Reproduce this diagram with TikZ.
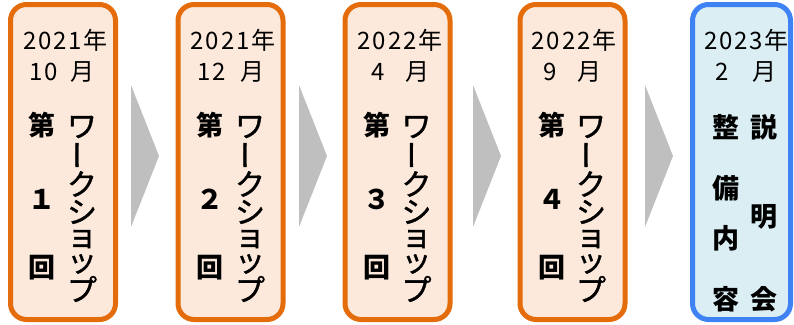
\documentclass[tikz,border=0pt]{standalone}
\usepackage{fontspec}
\setmainfont{Noto Sans CJK JP}
\newfontfamily\jphead[LetterSpace=8]{Noto Sans CJK JP}
\newfontfamily\jp{Noto Sans CJK JP}
\newfontfamily\jpk[FakeBold=1.2]{Noto Sans CJK JP}
\definecolor{orgB}{HTML}{E46C0A}
\definecolor{peach}{HTML}{FCE9DB}
\definecolor{bluB}{HTML}{3F82F4}
\definecolor{lblue}{HTML}{DAEEF3}
\definecolor{agray}{HTML}{BFBFBF}
\tikzset{
  wsbox/.style={draw=orgB, fill=peach, line width=5pt, rounded corners=16pt,
    minimum width=105pt, minimum height=315pt, inner sep=0pt},
  endbox/.style={draw=bluB, fill=lblue, line width=5pt, rounded corners=16pt,
    minimum width=98pt, minimum height=315pt, inner sep=0pt},
  head/.style={inner sep=0pt, font=\jphead\fontsize{24}{26}\selectfont},
  kana/.style={inner sep=0pt, font=\jpk\fontsize{30}{32}\selectfont},
  kanj/.style={inner sep=0pt, font=\jp\bfseries\fontsize{27}{30}\selectfont},
  tri/.style={fill=agray}
}
\newcommand\kcol[2]{%
  \node[kana] (#1k1) at (#2,127) {ワ};
  \node[kana,rotate=90] (#1k2) at (#2,155) {ー};
  \node[kana] (#1k3) at (#2,184) {ク};
  \node[kana] (#1k4) at (#2,212) {シ};
  \node[kana] (#1k5) at (#2,239) {ョ};
  \node[kana] (#1k6) at (#2,264) {ッ};
  \node[kana] (#1k7) at (#2,289) {プ};}
\newcommand\lcol[3]{%
  \node[kanj] (#1l1) at (#2,125) {第};
  \node[kanj] (#1l2) at (#2,199) {#3};
  \node[kanj] (#1l3) at (#2,268) {回};}
\begin{document}
\begin{tikzpicture}[x=1pt,y=-1pt]
\useasboundingbox (0,0) rectangle (794,324);
% boxes
\node[wsbox] (b1) at (63,162) {};
\node[wsbox] (b2) at (230.5,162) {};
\node[wsbox] (b3) at (397.5,162) {};
\node[wsbox] (b4) at (572.5,162) {};
\node[endbox] (b5) at (741.5,162) {};
% arrows
\fill[tri] (131,85) -- (159,156) -- (131,227) -- cycle;
\fill[tri] (299,85) -- (327,156) -- (299,227) -- cycle;
\fill[tri] (473,85) -- (501,156) -- (473,227) -- cycle;
\fill[tri] (645,85) -- (673,156) -- (645,227) -- cycle;
% box 1
\node[head] (b1y) at (65.5,40) {2021年};
\node[head] (b1d) at (44,72) {10};
\node[head] (b1m) at (82,72) {月};
\lcol{b1}{42}{１}
\kcol{b1}{82}
% box 2
\node[head] (b2y) at (233,40) {2021年};
\node[head] (b2d) at (211.5,72) {12};
\node[head] (b2m) at (252,72) {月};
\lcol{b2}{210}{２}
\kcol{b2}{250}
% box 3
\node[head] (b3y) at (400,40) {2022年};
\node[head] (b3d) at (378,72) {4};
\node[head] (b3m) at (417,72) {月};
\lcol{b3}{376.5}{３}
\kcol{b3}{416.5}
% box 4
\node[head] (b4y) at (574,40) {2022年};
\node[head] (b4d) at (550,72) {9};
\node[head] (b4m) at (589,72) {月};
\lcol{b4}{552}{４}
\kcol{b4}{591}
% box 5
\node[head] (b5y) at (746.5,40) {2023年};
\node[head] (b5d) at (722,72) {2};
\node[head] (b5m) at (764,72) {月};
\node[kanj] (b5a1) at (726,127.5) {整};
\node[kanj] (b5a2) at (726,188) {備};
\node[kanj] (b5a3) at (726,238) {内};
\node[kanj] (b5a4) at (726,299) {容};
\node[kanj] (b5b1) at (764,127.5) {説};
\node[kanj] (b5b2) at (764,217) {明};
\node[kanj] (b5b3) at (764,299) {会};
\end{tikzpicture}
\end{document}
